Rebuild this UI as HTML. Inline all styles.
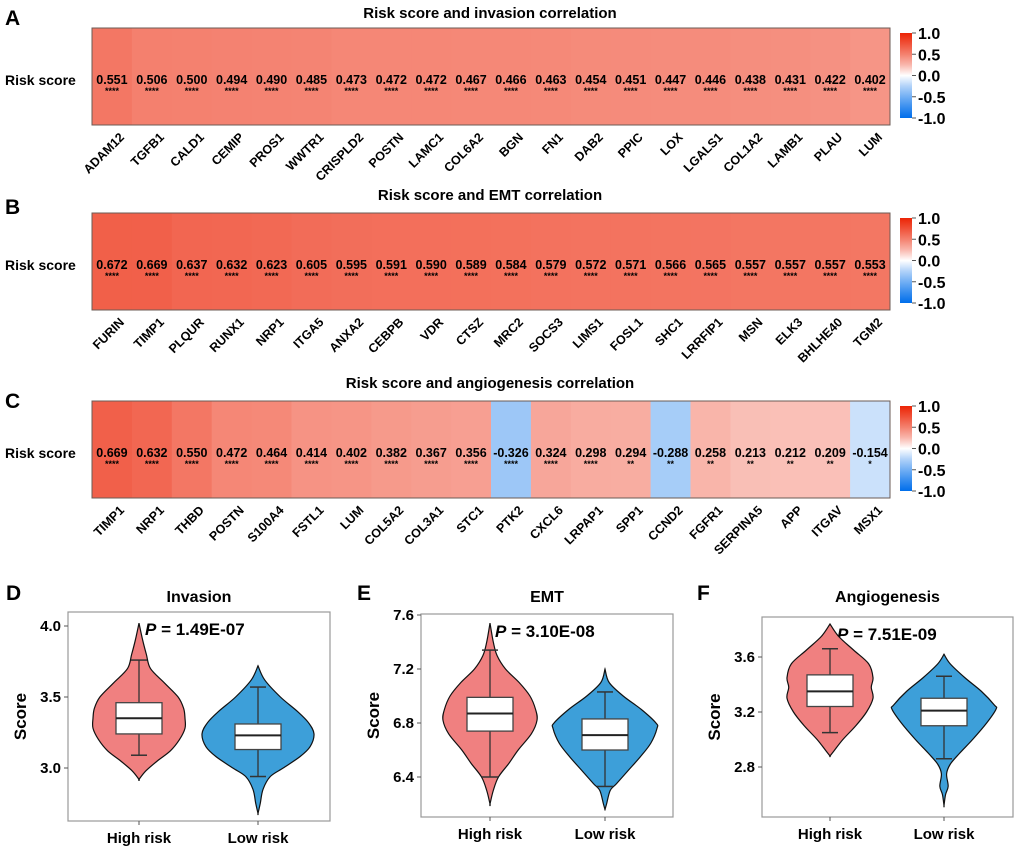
<!DOCTYPE html>
<html><head><meta charset="utf-8">
<style>
body{margin:0;background:#fff;}
svg{display:block;font-family:"Liberation Sans",Arial,sans-serif;}
</style></head>
<body>
<svg id="fig" width="1020" height="848" viewBox="0 0 1020 848"></svg>
<script>
const genesA=["ADAM12","TGFB1","CALD1","CEMIP","PROS1","WWTR1","CRISPLD2","POSTN","LAMC1","COL6A2","BGN","FN1","DAB2","PPIC","LOX","LGALS1","COL1A2","LAMB1","PLAU","LUM"];
const valsA=[0.551,0.506,0.500,0.494,0.490,0.485,0.473,0.472,0.472,0.467,0.466,0.463,0.454,0.451,0.447,0.446,0.438,0.431,0.422,0.402];
const starsA=["****","****","****","****","****","****","****","****","****","****","****","****","****","****","****","****","****","****","****","****"];
const genesB=["FURIN","TIMP1","PLQUR","RUNX1","NRP1","ITGA5","ANXA2","CEBPB","VDR","CTSZ","MRC2","SOCS3","LIMS1","FOSL1","SHC1","LRRFIP1","MSN","ELK3","BHLHE40","TGM2"];
const valsB=[0.672,0.669,0.637,0.632,0.623,0.605,0.595,0.591,0.590,0.589,0.584,0.579,0.572,0.571,0.566,0.565,0.557,0.557,0.557,0.553];
const starsB=["****","****","****","****","****","****","****","****","****","****","****","****","****","****","****","****","****","****","****","****"];
const genesC=["TIMP1","NRP1","THBD","POSTN","S100A4","FSTL1","LUM","COL5A2","COL3A1","STC1","PTK2","CXCL6","LRPAP1","SPP1","CCND2","FGFR1","SERPINA5","APP","ITGAV","MSX1"];
const valsC=[0.669,0.632,0.550,0.472,0.464,0.414,0.402,0.382,0.367,0.356,-0.326,0.324,0.298,0.294,-0.288,0.258,0.213,0.212,0.209,-0.154];
const starsC=["****","****","****","****","****","****","****","****","****","****","****","****","****","**","**","**","**","**","**","*"];
const cbTicks=[1.0,0.5,0.0,-0.5,-1.0];

const dHighY=[4.02,3.9,3.8,3.7,3.6,3.5,3.42,3.35,3.28,3.2,3.12,3.05,2.98,2.92];
const dHighW=[0,0.08,0.16,0.25,0.55,0.85,0.97,1.0,1.0,0.88,0.68,0.4,0.15,0];
const dHighBox=[3.09,3.24,3.35,3.46,3.76];
const dLowY=[3.72,3.62,3.5,3.4,3.32,3.24,3.15,3.08,3.0,2.94,2.85,2.75,2.68];
const dLowW=[0,0.12,0.4,0.7,0.9,1.0,0.93,0.75,0.45,0.22,0.09,0.04,0];
const dLowBox=[2.94,3.13,3.23,3.31,3.57];
const eHighY=[7.54,7.4,7.3,7.2,7.1,7.0,6.9,6.82,6.72,6.6,6.5,6.4,6.3,6.2];
const eHighW=[0,0.07,0.15,0.33,0.62,0.85,0.97,1.0,0.88,0.6,0.4,0.18,0.07,0];
const eHighBox=[6.40,6.74,6.87,6.99,7.34];
const eLowY=[7.2,7.1,7.0,6.9,6.8,6.76,6.65,6.55,6.45,6.35,6.3,6.2,6.16];
const eLowW=[0,0.08,0.35,0.7,0.98,1.0,0.88,0.68,0.45,0.22,0.1,0.03,0];
const eLowBox=[6.33,6.60,6.71,6.83,7.03];
const fHighY=[3.84,3.75,3.65,3.55,3.45,3.38,3.3,3.2,3.1,3.0,2.92,2.88];
const fHighW=[0,0.2,0.55,0.9,1.0,0.96,1.0,0.85,0.6,0.3,0.1,0];
const fHighBox=[3.05,3.24,3.35,3.47,3.66];
const fLowY=[3.62,3.55,3.45,3.35,3.25,3.22,3.12,3.0,2.9,2.82,2.75,2.66,2.6,2.52];
const fLowW=[0,0.12,0.4,0.72,0.97,1.0,0.82,0.55,0.3,0.12,0.05,0.08,0.03,0];
const fLowBox=[2.86,3.10,3.21,3.30,3.46];
const groups=["High risk","Low risk"];

const NS="http://www.w3.org/2000/svg";
const svg=document.getElementById("fig");
function el(tag,attrs,parent,txt){const e=document.createElementNS(NS,tag);for(const k in attrs)e.setAttribute(k,attrs[k]);if(txt!==undefined)e.textContent=txt;(parent||svg).appendChild(e);return e;}

function color(v){
  let r,g,b;
  if(v>=0){const t=Math.pow(v,0.8);r=255-t*(255-236);g=255-t*(255-36);b=255-t*(255-5);}
  else{const t=Math.pow(-v,0.85);r=255-t*255;g=255-t*(255-110);b=255-t*(255-235);}
  return `rgb(${Math.round(Math.max(0,r))},${Math.round(Math.max(0,g))},${Math.round(Math.max(0,b))})`;
}

function heatmap(letter,title,genes,vals,stars,top,titleY,letterY,name){
  const g=el("g",{},svg);
  
  
  const L=el("text",{x:5,y:letterY,"font-size":21,"font-weight":"bold"},g,letter);
  
  
  const T=el("text",{x:490,y:titleY,"font-size":15,"font-weight":"bold","text-anchor":"middle"},g,title);
  
  
  const x0=92,x1=890,h=97,w=(x1-x0)/genes.length;
  const R=el("text",{x:5,y:top+57,"font-size":14,"font-weight":"bold"},g,"Risk score");
  
  
  genes.forEach((gn,i)=>{
    const x=x0+i*w;
    const c=el("rect",{x:x,y:top,width:w+0.5,height:h,fill:color(vals[i])},g);
    
    
    const t=el("text",{x:x+w/2,y:top+56,"font-size":12.5,"font-weight":"bold","text-anchor":"middle"},g,vals[i].toFixed(3));
    
    
    const s=el("text",{x:x+w/2,y:top+66,"font-size":9,"font-weight":"bold","text-anchor":"middle"},g,stars[i]);
    
    
    const cx=x+w/2+13,cy=top+h+13;
    const gl=el("text",{x:cx,y:cy,"font-size":12.5,"font-weight":"bold","text-anchor":"end",transform:`rotate(-45 ${cx} ${cy})`},g,gn);
    
    
  });
  const B=el("rect",{x:x0,y:top,width:x1-x0,height:h,fill:"none",stroke:"#6b5b55","stroke-width":1},g);
  
  
  const cbx=900,cby0=top+5,cby1=top+90;
  const id="grad"+letter;
  const defs=el("defs",{},g);
  const lg=el("linearGradient",{id:id,x1:0,y1:0,x2:0,y2:1},defs);
  [1,0.75,0.5,0.25,0,-0.25,-0.5,-0.75,-1].forEach((v,i)=>el("stop",{offset:(i*12.5)+"%","stop-color":color(v)},lg));
  const cb=el("rect",{x:cbx,y:cby0,width:12,height:cby1-cby0,fill:`url(#${id})`},g);
  
  
  cbTicks.forEach(v=>{
    const yy=cby0+(1-v)/2*(cby1-cby0);
    el("line",{x1:cbx+12,x2:cbx+16,y1:yy,y2:yy,stroke:"#555"},g);
    const tl=el("text",{x:cbx+18,y:yy+6,"font-size":16,"font-weight":"bold"},g,v.toFixed(1));
    
    
  });
}
heatmap("A","Risk score and invasion correlation",genesA,valsA,starsA,28,18,25,"heatmap-invasion");
heatmap("B","Risk score and EMT correlation",genesB,valsB,starsB,213,200,214,"heatmap-emt");
heatmap("C","Risk score and angiogenesis correlation",genesC,valsC,starsC,401,388,408,"heatmap-angiogenesis");

function violinPanel(o){
  const g=el("g",{},svg);
  
  
  const yS=v=>o.py0+(v-o.v0)*(o.py1-o.py0)/(o.v1-o.v0);
  const L=el("text",{x:o.lx,y:600,"font-size":21,"font-weight":"bold"},g,o.letter);
  
  
  const T=el("text",{x:(o.bx0+o.bx1)/2,y:602,"font-size":16,"font-weight":"bold","text-anchor":"middle"},g,o.title);
  
  
  const F=el("rect",{x:o.bx0,y:o.by0,width:o.bx1-o.bx0,height:o.by1-o.by0,fill:"none",stroke:"#999","stroke-width":1.2},g);
  
  
  o.ticks.forEach(v=>{
    const yy=yS(v);
    el("line",{x1:o.bx0-4,x2:o.bx0,y1:yy,y2:yy,stroke:"#555"},g);
    const t=el("text",{x:o.bx0-7,y:yy+5,"font-size":15,"font-weight":"bold","text-anchor":"end"},g,v.toFixed(o.dec));
    
    
  });
  const ya=el("text",{x:o.bx0-42,y:(o.by0+o.by1)/2,"font-size":17,"font-weight":"bold","text-anchor":"middle",transform:`rotate(-90 ${o.bx0-42} ${(o.by0+o.by1)/2})`},g,"Score");
  
  
  const P=el("text",{x:o.px,y:o.by0+23,"font-size":17,"font-weight":"bold"},g);
  el("tspan",{"font-style":"italic"},P,"P");
  el("tspan",{},P," = "+o.p);
  
  
  o.v.forEach((vv,k)=>{
    const cx=o.cx[k];
    let pts=[];
    vv.y.forEach((yv,i)=>pts.push([cx+vv.w[i]*vv.max,yS(yv)]));
    for(let i=vv.y.length-1;i>=0;i--)pts.push([cx-vv.w[i]*vv.max,yS(vv.y[i])]);
    let d=`M${pts[0][0]},${pts[0][1]}`;
    for(let i=0;i<pts.length-1;i++){
      const p0=pts[Math.max(i-1,0)],p1=pts[i],p2=pts[i+1],p3=pts[Math.min(i+2,pts.length-1)];
      d+=` C${p1[0]+(p2[0]-p0[0])/6},${p1[1]+(p2[1]-p0[1])/6} ${p2[0]-(p3[0]-p1[0])/6},${p2[1]-(p3[1]-p1[1])/6} ${p2[0]},${p2[1]}`;
    }
    d+="Z";
    const vp=el("path",{d:d,fill:k==0?"#f08080":"#3d9fd9",stroke:"#111","stroke-width":1.2},g);
    
    
    const b=vv.box;
    el("line",{x1:cx,x2:cx,y1:yS(b[0]),y2:yS(b[4]),stroke:"#333","stroke-width":1.3},g);
    el("line",{x1:cx-8,x2:cx+8,y1:yS(b[0]),y2:yS(b[0]),stroke:"#333","stroke-width":1.5},g);
    el("line",{x1:cx-8,x2:cx+8,y1:yS(b[4]),y2:yS(b[4]),stroke:"#333","stroke-width":1.5},g);
    const bx=el("rect",{x:cx-23,y:yS(b[3]),width:46,height:yS(b[1])-yS(b[3]),fill:"#fff",stroke:"#444","stroke-width":1.3},g);
    
    
    el("line",{x1:cx-23,x2:cx+23,y1:yS(b[2]),y2:yS(b[2]),stroke:"#222","stroke-width":2},g);
    el("line",{x1:cx,x2:cx,y1:o.by1,y2:o.by1+4,stroke:"#555"},g);
    const xl=el("text",{x:cx,y:o.by1+22,"font-size":15,"font-weight":"bold","text-anchor":"middle"},g,groups[k]);
    
    
  });
}
violinPanel({name:"violin-invasion",letter:"D",lx:6,title:"Invasion",bx0:68,bx1:330,by0:612,by1:821,v0:4.0,py0:626,v1:3.0,py1:768,ticks:[3.0,3.5,4.0],dec:1,px:145,p:"1.49E-07",cx:[139,258],
  v:[{y:dHighY,w:dHighW,max:46,box:dHighBox},{y:dLowY,w:dLowW,max:56,box:dLowBox}]});
violinPanel({name:"violin-emt",letter:"E",lx:357,title:"EMT",bx0:421,bx1:673,by0:614,by1:817,v0:7.6,py0:615,v1:6.4,py1:777,ticks:[6.4,6.8,7.2,7.6],dec:1,px:495,p:"3.10E-08",cx:[490,605],
  v:[{y:eHighY,w:eHighW,max:47,box:eHighBox},{y:eLowY,w:eLowW,max:52,box:eLowBox}]});
violinPanel({name:"violin-angiogenesis",letter:"F",lx:697,title:"Angiogenesis",bx0:762,bx1:1013,by0:617,by1:817,v0:3.6,py0:657,v1:2.8,py1:767,ticks:[2.8,3.2,3.6],dec:1,px:837,p:"7.51E-09",cx:[830,944],
  v:[{y:fHighY,w:fHighW,max:43,box:fHighBox},{y:fLowY,w:fLowW,max:52,box:fLowBox}]});
</script>
</body></html>
